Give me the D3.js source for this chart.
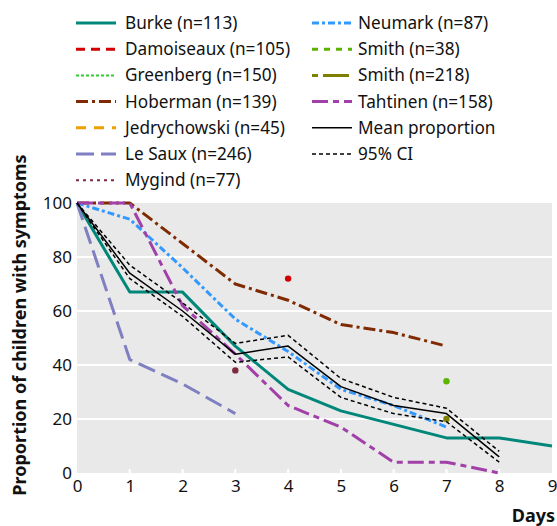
<!DOCTYPE html>
<html>
<head>
<meta charset="utf-8">
<script src="https://cdn.jsdelivr.net/npm/d3@7/dist/d3.min.js"></script>
<style>
  body { margin: 0; background: #fff; }
  svg { display: block; font-family: "Noto Sans", sans-serif; }
</style>
</head>
<body>
<svg id="chart" width="557" height="526"></svg>
<script>
// Days 0..9
var days = [0, 1, 2, 3, 4, 5, 6, 7, 8, 9];
var yTicks = [0, 20, 40, 60, 80, 100];

// Proportion of children with symptoms (null = no value)
var burke      = [100, 67, 67, 47, 31, 23, 18, 13, 13, 10];
var damoiseaux = [null, null, null, null, 72];
var greenberg  = [];
var hoberman   = [100, 100, 85, 70, 64, 55, 52, 47];
var jedry      = [];
var leSaux     = [100, 42, 33, 22];
var mygind     = [null, null, null, 38];
var neumark    = [100, 94, 76, 57, 45, 31, 25, 17];
var smith38    = [null, null, null, null, null, null, null, 34];
var smith218   = [null, null, null, null, null, null, null, 20];
var tahtinen   = [100, 100, 62, 44, 25, 17, 4, 4, 0];
var meanProp   = [100, 74, 60, 44, 47, 32, 25, 22, 6];
var ciUpper    = [100, 77, 63, 48, 51, 35, 28, 24, 8];
var ciLower    = [100, 72, 58, 41, 43, 28, 22, 19, 4];

var labels = ["Burke (n=113)", "Damoiseaux (n=105)", "Greenberg (n=150)", "Hoberman (n=139)",
  "Jedrychowski (n=45)", "Le Saux (n=246)", "Mygind (n=77)", "Neumark (n=87)", "Smith (n=38)",
  "Smith (n=218)", "Tahtinen (n=158)", "Mean proportion", "95% CI"];

// Styling for each series, same order as labels
var series = [
  { values: burke,      color: "#00877a", width: 3,   dash: null },
  { values: damoiseaux, color: "#d40000", width: 3,   dash: "9,6" },
  { values: greenberg,  color: "#33cc33", width: 2,   dash: "3,2" },
  { values: hoberman,   color: "#7f2a00", width: 3,   dash: "12,4,3,4" },
  { values: jedry,      color: "#eea000", width: 3,   dash: "10,8" },
  { values: leSaux,     color: "#7f7fc2", width: 3,   dash: "18,7" },
  { values: mygind,     color: "#7c2a3c", width: 2,   dash: "3,4" },
  { values: neumark,    color: "#3399ff", width: 3,   dash: "7,3,3,3" },
  { values: smith38,    color: "#5ab400", width: 3,   dash: "6,6" },
  { values: smith218,   color: "#808000", width: 3,   dash: "6,5,26,5" },
  { values: tahtinen,   color: "#a040a8", width: 3,   dash: "16,5,6,5" },
  { values: meanProp,   color: "#000",    width: 1.5, dash: null },
  { values: ciUpper,    color: "#000",    width: 1.5, dash: "4,3" },
  { values: ciLower,    color: "#000",    width: 1.5, dash: "4,3", noLegend: true }
];

var svg = d3.select("#chart");
var x = d3.scaleLinear().domain([0, 9]).range([77, 552]);
var y = d3.scaleLinear().domain([0, 100]).range([473, 203]);

// Grey panel
svg.append("rect")
  .attr("x", x(0)).attr("y", y(100))
  .attr("width", x(9) - x(0)).attr("height", y(0) - y(100))
  .attr("fill", "#e9e9e9");

// White horizontal grid lines
svg.append("g").selectAll("line")
  .data(yTicks.filter(function(t) { return t > 0 && t < 100; }))
  .enter().append("line")
  .attr("x1", x(0)).attr("x2", x(9))
  .attr("y1", function(t) { return y(t); }).attr("y2", function(t) { return y(t); })
  .attr("stroke", "#fff").attr("stroke-width", 2.2);

// Small white ticks at the bottom of the panel
svg.append("g").selectAll("line")
  .data(days.slice(1, 9))
  .enter().append("line")
  .attr("x1", function(d) { return x(d); }).attr("x2", function(d) { return x(d); })
  .attr("y1", y(0)).attr("y2", y(0) - 4)
  .attr("stroke", "#fff").attr("stroke-width", 2);

// Axes (text only, no domain lines)
var xAxis = svg.append("g")
  .attr("transform", "translate(0," + y(0) + ")")
  .call(d3.axisBottom(x).tickValues(days).tickSize(0).tickPadding(7).tickFormat(d3.format("d")));
var yAxis = svg.append("g")
  .attr("transform", "translate(" + x(0) + ",0)")
  .call(d3.axisLeft(y).tickValues(yTicks).tickSize(0).tickPadding(5).tickFormat(d3.format("d")));
[xAxis, yAxis].forEach(function(a) {
  a.select(".domain").remove();
  a.selectAll("text").attr("font-size", 17).attr("fill", "#111")
    .attr("font-family", "'Noto Sans', sans-serif");
});

// Lines
var line = d3.line()
  .defined(function(d) { return d != null; })
  .x(function(d, i) { return x(days[i]); })
  .y(function(d) { return y(d); });

var lines = svg.append("g");
series.forEach(function(s) {
  var n = s.values.filter(function(v) { return v != null; }).length;
  if (n > 1) {
    lines.append("path")
      .attr("d", line(s.values))
      .attr("fill", "none")
      .attr("stroke", s.color)
      .attr("stroke-width", s.width)
      .attr("stroke-dasharray", s.dash)
      .attr("stroke-linejoin", "round");
  } else if (n === 1) {
    var i = s.values.findIndex(function(v) { return v != null; });
    lines.append("circle")
      .attr("cx", x(days[i])).attr("cy", y(s.values[i]))
      .attr("r", 3.2).attr("fill", s.color);
  }
});

// Legend in two columns
var legendItems = series.filter(function(s) { return !s.noLegend; });
var legend = svg.append("g");
legendItems.forEach(function(s, i) {
  var col = i < 7 ? 0 : 1;
  var row = col === 0 ? i : i - 7;
  var lx = col === 0 ? 76 : 312;
  var ly = 23 + row * 26.2;
  legend.append("line")
    .attr("x1", lx).attr("x2", lx + 40)
    .attr("y1", ly).attr("y2", ly)
    .attr("stroke", s.color)
    .attr("stroke-width", s.width)
    .attr("stroke-dasharray", s.dash);
  legend.append("text")
    .attr("x", lx + (col === 0 ? 49 : 46)).attr("y", ly)
    .attr("dy", "0.35em")
    .attr("font-size", 17.2).attr("fill", "#111")
    .text(labels[i]);
});

// Axis titles
svg.append("text")
  .attr("transform", "translate(26," + 325 + ") rotate(-90)")
  .attr("text-anchor", "middle")
  .attr("font-size", 18).attr("font-weight", "bold").attr("fill", "#111")
  .text("Proportion of children with symptoms");
svg.append("text")
  .attr("x", 555).attr("y", 522)
  .attr("text-anchor", "end")
  .attr("font-size", 18).attr("font-weight", "bold").attr("fill", "#111")
  .text("Days");
</script>
</body>
</html>
